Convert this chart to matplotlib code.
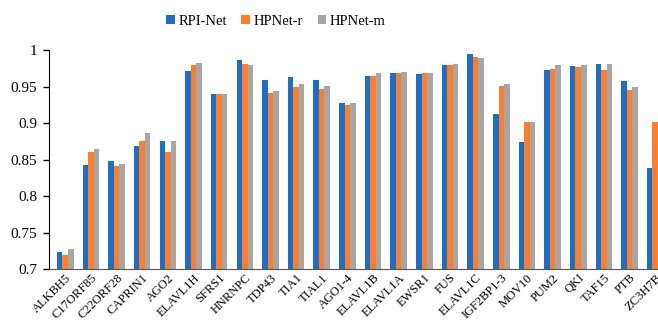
import matplotlib.pyplot as plt
import numpy as np

plt.rcParams["font.family"] = ["Liberation Serif", "DejaVu Serif"]

proteins = [
    "ALKBH5", "C17ORF85", "C22ORF28", "CAPRIN1", "AGO2", "ELAVL1H", "SFRS1",
    "HNRNPC", "TDP43", "TIA1", "TIAL1", "AGO1-4", "ELAVL1B", "ELAVL1A",
    "EWSR1", "FUS", "ELAVL1C", "IGF2BP1-3", "MOV10", "PUM2", "QKI", "TAF15",
    "PTB", "ZC3H7B",
]
rpi_net = [0.723, 0.843, 0.848, 0.868, 0.876, 0.971, 0.940, 0.986, 0.959, 0.963,
           0.959, 0.927, 0.964, 0.968, 0.967, 0.980, 0.995, 0.912, 0.874, 0.972,
           0.978, 0.981, 0.958, 0.838]
hpnet_r = [0.720, 0.860, 0.841, 0.875, 0.861, 0.980, 0.940, 0.981, 0.941, 0.950,
           0.947, 0.925, 0.964, 0.969, 0.968, 0.980, 0.990, 0.951, 0.901, 0.974,
           0.977, 0.972, 0.945, 0.901]
hpnet_m = [0.728, 0.865, 0.844, 0.887, 0.875, 0.982, 0.940, 0.980, 0.944, 0.953,
           0.951, 0.928, 0.968, 0.970, 0.968, 0.981, 0.989, 0.954, 0.902, 0.979,
           0.980, 0.981, 0.950, 0.905]
yticks = [0.7, 0.75, 0.8, 0.85, 0.9, 0.95, 1.0]
ytick_labels = ["0.7", "0.75", "0.8", "0.85", "0.9", "0.95", "1"]

series = [
    ("RPI-Net", rpi_net, "#1b6fc8"),
    ("HPNet-r", hpnet_r, "#fd7f2c"),
    ("HPNet-m", hpnet_m, "#a6a6a6"),
]

fig = plt.figure(figsize=(6.58, 3.27), dpi=100)
ax = fig.add_axes([0.0752, 0.177, 0.9248, 0.670])

x = np.arange(len(proteins))
w = 0.215
for k, (name, vals, color) in enumerate(series):
    ax.bar(x + (k - 1) * w, vals, width=w, color=color, label=name, zorder=2)

ax.set_ylim(0.7, 1.0)
ax.set_xlim(-0.614, 23.11)
ax.set_yticks(yticks)
ax.set_yticklabels(ytick_labels, fontsize=11)
ax.set_xticks(x)
ax.set_xticklabels(proteins, rotation=45, ha="right", rotation_mode="anchor", fontsize=9)
ax.tick_params(axis="x", length=0, pad=2)
ax.tick_params(axis="y", length=4, width=1, direction="out", pad=5)

for s in ("top", "right"):
    ax.spines[s].set_visible(False)
ax.spines["left"].set_color("black")
ax.spines["bottom"].set_color("#555555")

ax.legend(loc="center", bbox_to_anchor=(0.372, 1.132), ncol=3, frameon=False,
          fontsize=10.5, handlelength=0.6, handleheight=0.6, handletextpad=0.25,
          columnspacing=1.0)

fig.savefig("out.png", dpi=100)
